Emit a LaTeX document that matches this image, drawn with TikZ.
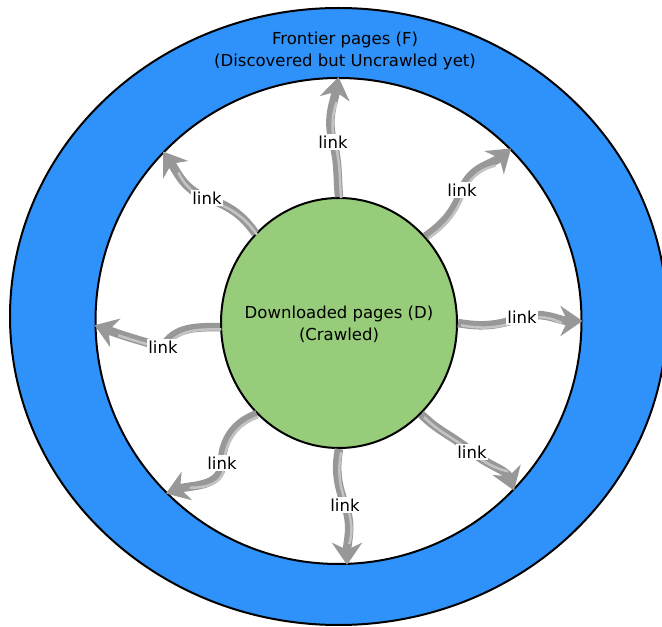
\documentclass[tikz,border=0pt]{standalone}
\usepackage{fontspec}
\setmainfont{DejaVu Sans}
\usetikzlibrary{arrows.meta,shapes.geometric}
\definecolor{ringblue}{RGB}{47,146,250}
\definecolor{coregreen}{RGB}{151,204,122}
\definecolor{arrgray}{RGB}{152,152,152}
\definecolor{arrlight}{RGB}{196,196,196}
\begin{document}
\begin{tikzpicture}[x=1pt,y=1pt,
  ring/.style={ellipse, draw=black, line width=2pt, inner sep=0pt},
  linkarrow/.style={draw=arrgray, line width=8.5pt,
    -{Stealth[length=22pt,width=30pt,inset=7pt]},
    postaction={draw=arrlight, line width=2.5pt, -, shorten >=23pt, shorten <=1pt,
      transform canvas={shift={(2.2pt,-2.2pt)}}}},
  linklabel/.style={fill=white, inner sep=1.5pt, font=\fontsize{16.5}{18}\selectfont},
  title/.style={align=center, font=\fontsize{16.5}{22}\selectfont}]
\useasboundingbox (0,0) rectangle (662,627);
\clip (0,0) rectangle (662,627);
\node[ring, fill=ringblue, minimum width=657pt, minimum height=617pt] (F) at (338.5,310.5) {};
\node[circle, draw=black, line width=2pt, fill=white, inner sep=0pt, minimum size=486pt] (W) at (338.5,306) {};
\node[ring, fill=coregreen, minimum width=236pt, minimum height=250pt] (D) at (339,304) {};
\coordinate (L1) at (333,485);
\coordinate (L2) at (207,429);
\coordinate (L3) at (462,437);
\coordinate (L4) at (522,310);
\coordinate (L5) at (163,280);
\coordinate (L6) at (222,164);
\coordinate (L7) at (345,122);
\coordinate (L8) at (472,175);
\draw[linkarrow] (D.north) to[out=95,in=-75] (L1) to[out=105,in=-100] (W.90);
\draw[linkarrow] (D.133) to[out=125,in=-20] (L2) to[out=160,in=-55] (W.136);
\draw[linkarrow] (D.45) to[out=35,in=-110] (L3) to[out=70,in=-140] (W.45);
\draw[linkarrow] (D.east) to[out=-10,in=200] (L4) to[out=15,in=180] (W.0);
\draw[linkarrow] (D.182) to[out=180,in=60] (L5) to[out=165,in=-20] (W.181);
\draw[linkarrow] (D.228) to[out=200,in=90] (L6) to[out=-90,in=20] (W.225);
\draw[linkarrow] (D.south) to[out=-100,in=110] (L7) to[out=-70,in=90] (W.272);
\draw[linkarrow] (D.312) to[out=-45,in=140] (L8) to[out=-40,in=110] (W.316);
\node[linklabel] (l1) at (L1) {link};
\node[linklabel] (l2) at (L2) {link};
\node[linklabel] (l3) at (L3) {link};
\node[linklabel] (l4) at (L4) {link};
\node[linklabel] (l5) at (L5) {link};
\node[linklabel] (l6) at (L6) {link};
\node[linklabel] (l7) at (L7) {link};
\node[linklabel] (l8) at (L8) {link};
\node[title] (ftext) at (345,576) {Frontier pages (F)\\(Discovered but Uncrawled yet)};
\node[title] (dtext) at (339,303) {Downloaded pages (D)\\(Crawled)};
\end{tikzpicture}
\end{document}
